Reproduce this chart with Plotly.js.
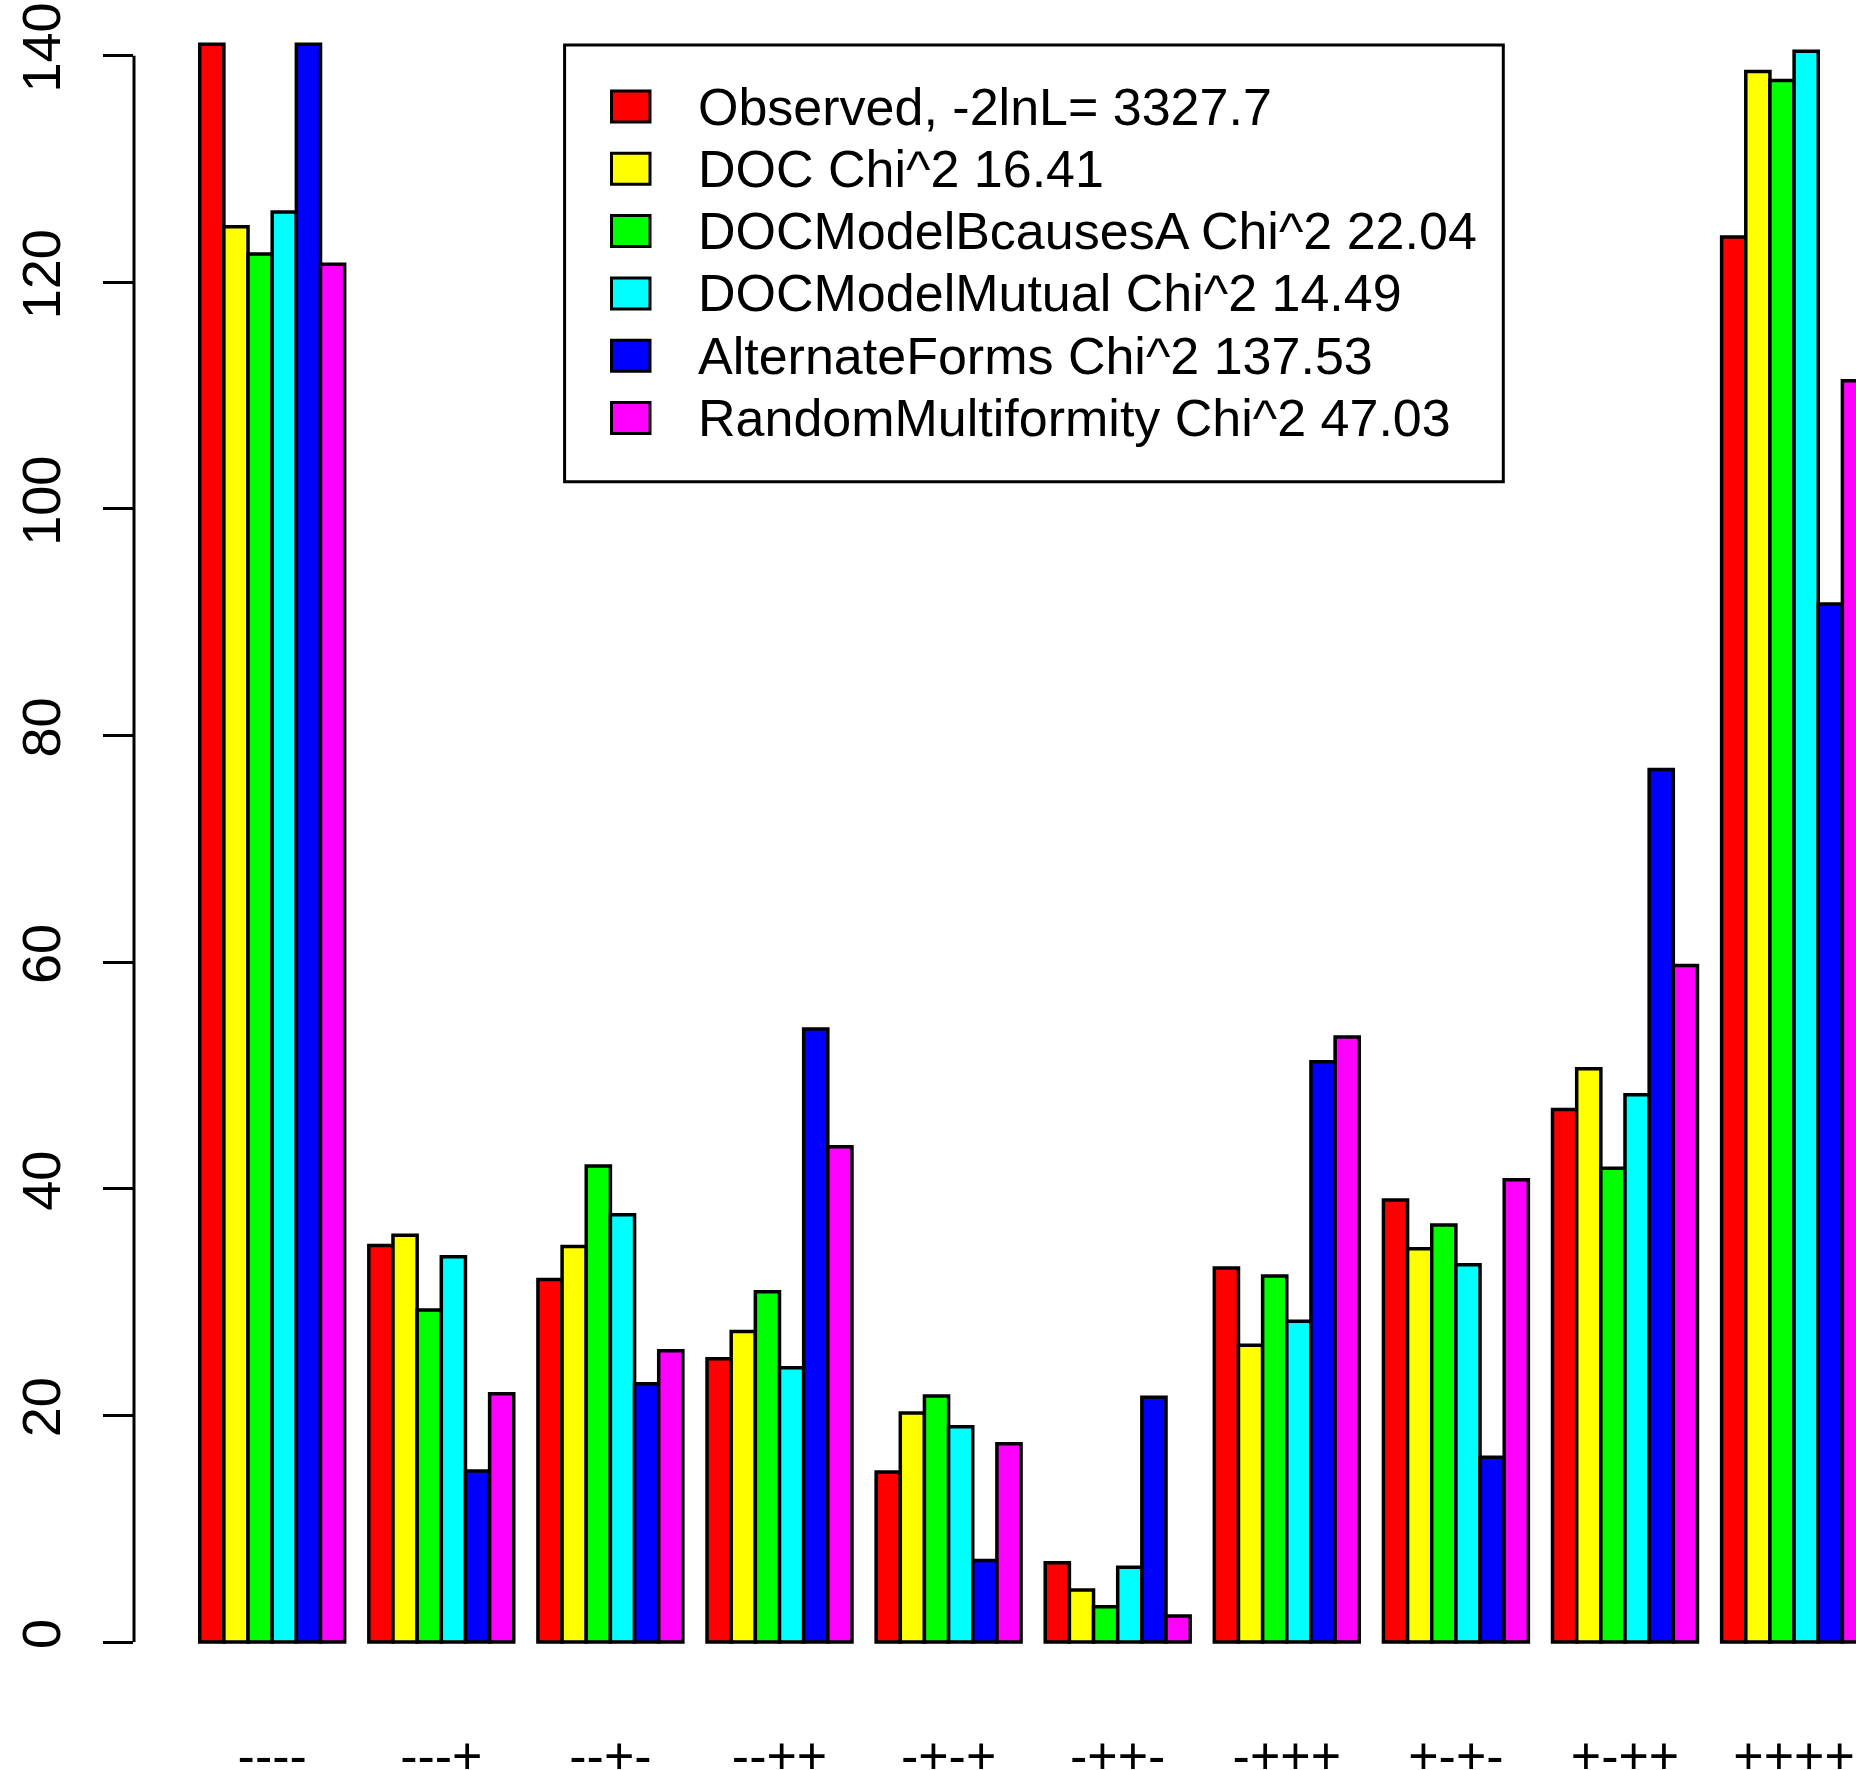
<!DOCTYPE html>
<html>
<head>
<meta charset="utf-8">
<script src="https://cdn.plot.ly/plotly-3.0.1.min.js"></script>
<style>
  html, body { margin: 0; padding: 0; background: #ffffff; }
  #chart { width: 1856px; height: 1770px; }
</style>
</head>
<body>
<div id="chart"></div>
<script>
// Sign patterns on the x axis
const patterns = ['----', '---+', '--+-', '--++', '-+-+', '-++-', '-+++', '+-+-', '+-++', '++++'];

// Observed frequencies and the frequencies expected under each model
const observed    = [141, 35, 32, 25, 15, 7, 33, 39, 47, 124];
const docModel    = [124.9, 35.9, 34.9, 27.4, 20.2, 4.6, 26.2, 34.7, 50.6, 138.6];
const bCausesA    = [122.5, 29.3, 42.0, 30.9, 21.7, 3.1, 32.3, 36.8, 41.8, 137.8];
const mutualModel = [126.2, 34.0, 37.7, 24.2, 19.0, 6.6, 28.3, 33.3, 48.3, 140.4];
const altForms    = [141, 15.1, 22.8, 54.1, 7.2, 21.6, 51.2, 16.3, 77.0, 91.6];
const randomMulti = [121.6, 21.9, 25.7, 43.7, 17.5, 2.3, 53.4, 40.8, 59.7, 111.3];

// Series labels
const seriesNames = [
  'Observed, -2lnL= 3327.7',
  'DOC Chi^2 16.41',
  'DOCModelBcausesA Chi^2 22.04',
  'DOCModelMutual Chi^2 14.49',
  'AlternateForms Chi^2 137.53',
  'RandomMultiformity Chi^2 47.03'
];
const seriesValues = [observed, docModel, bCausesA, mutualModel, altForms, randomMulti];
const seriesColors = ['#FF0000', '#FFFF00', '#00FF00', '#00FFFF', '#0000FF', '#FF00FF'];

// Y axis ticks
const yTicks = [0, 20, 40, 60, 80, 100, 120, 140];

const FONT = '"Liberation Sans", Arial, Helvetica, sans-serif';
const FS = 52;

// Figure geometry (pixels)
const W = 1856, H = 1770;
const M = { l: 134, r: 0, t: 0, b: 116 };
const plotW = W - M.l - M.r;
const plotH = H - M.t - M.b;
const pxPerUnit = 11.331;          // vertical scale
const zeroPx = 1642;               // pixel row of y = 0
const catPx = 169.1;               // width of one category
const firstCatPx = 272.2;          // centre of the first category

const px = x => (x - M.l) / plotW;       // pixel column -> paper x
const py = y => 1 - (y - M.t) / plotH;   // pixel row -> paper y

const traces = seriesValues.map((vals, i) => ({
  type: 'bar',
  name: seriesNames[i],
  x: patterns,
  y: vals,
  marker: { color: seriesColors[i], line: { color: '#000000', width: 3.5 } },
  showlegend: false,
  hoverinfo: 'skip'
}));

// Boxed legend drawn in paper space
const shapes = [];
const annotations = [];
const box = { x0: 564.6, x1: 1503.3, y0: 45, y1: 481.8 };
shapes.push({
  type: 'rect', xref: 'paper', yref: 'paper',
  x0: px(box.x0), x1: px(box.x1), y0: py(box.y1), y1: py(box.y0),
  line: { color: '#000000', width: 3 }, fillcolor: '#ffffff', layer: 'above'
});
const rowTop = 106.5, rowStep = 62.3;
seriesNames.forEach((name, i) => {
  const cy = rowTop + i * rowStep;
  shapes.push({
    type: 'rect', xref: 'paper', yref: 'paper',
    x0: px(611.5), x1: px(650), y0: py(cy + 15.5), y1: py(cy - 15.5),
    line: { color: '#000000', width: 3 }, fillcolor: seriesColors[i], layer: 'above'
  });
  annotations.push({
    xref: 'paper', yref: 'paper', x: px(696), y: py(cy),
    xanchor: 'left', yanchor: 'middle', showarrow: false,
    text: name, font: { family: FONT, size: FS, color: '#000000' }
  });
});

// Y axis line spanning the tick range only
shapes.push({
  type: 'line', xref: 'paper', yref: 'y',
  x0: 0, x1: 0, y0: yTicks[0], y1: yTicks[yTicks.length - 1],
  line: { color: '#000000', width: 3 }, layer: 'above'
});

const layout = {
  width: W, height: H,
  margin: M,
  paper_bgcolor: '#ffffff',
  plot_bgcolor: '#ffffff',
  barmode: 'group',
  bargap: 1 / 7,
  bargroupgap: 0,
  font: { family: FONT, size: FS, color: '#000000' },
  xaxis: {
    type: 'category',
    categoryorder: 'array',
    categoryarray: patterns,
    range: [(M.l - firstCatPx) / catPx, (W - M.r - firstCatPx) / catPx],
    showline: false, showgrid: false, zeroline: false,
    ticks: '',
    tickfont: { family: FONT, size: FS, color: '#000000' },
    ticklabelstandoff: 67
  },
  yaxis: {
    range: [(zeroPx - (H - M.b)) / pxPerUnit, (zeroPx - M.t) / pxPerUnit],
    tickmode: 'array',
    tickvals: yTicks,
    ticktext: yTicks.map(String),
    ticks: 'outside', ticklen: 30, tickwidth: 3, tickcolor: '#000000',
    tickangle: -90,
    showline: false, showgrid: false, zeroline: false,
    tickfont: { family: FONT, size: 54, color: '#000000' },
    ticklabelstandoff: 21
  },
  shapes: shapes,
  annotations: annotations,
  showlegend: false,
  hovermode: false
};

Plotly.newPlot('chart', traces, layout, { staticPlot: true, displayModeBar: false });
</script>
</body>
</html>
